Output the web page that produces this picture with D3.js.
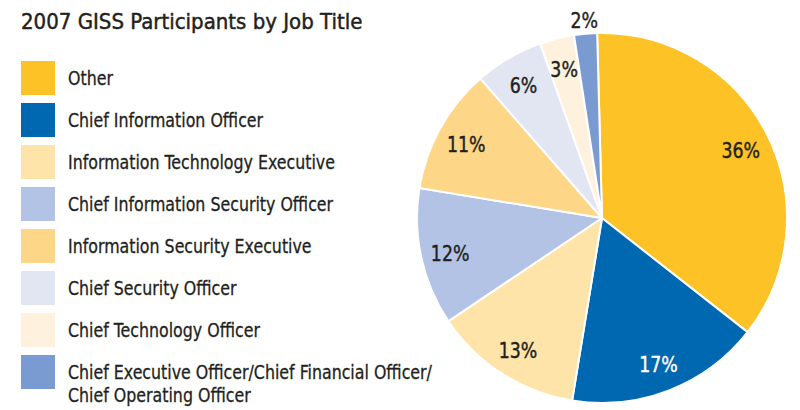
<!DOCTYPE html>
<html>
<head>
<meta charset="utf-8">
<script src="https://cdn.jsdelivr.net/npm/d3@7"></script>
<style>
  html, body { margin: 0; padding: 0; background: #ffffff; }
  svg { display: block; }
  text { font-family: "Liberation Sans Narrow", "DejaVu Sans Condensed", "Arial Narrow", sans-serif; fill: #231f20; }
  text.heavy { stroke: #231f20; stroke-width: 0.45px; }
</style>
</head>
<body>
<svg id="chart" width="800" height="410"></svg>
<script>
// Job titles of 2007 GISS participants, in slice order (clockwise from 12 o'clock)
const categories = [
  "Other",
  "Chief Information Officer",
  "Information Technology Executive",
  "Chief Information Security Officer",
  "Information Security Executive",
  "Chief Security Officer",
  "Chief Technology Officer",
  "Chief Executive Officer/Chief Financial Officer/Chief Operating Officer"
];
// Share of participants, percent
const values = [36, 17, 13, 12, 11, 6, 3, 2];
// Legend text, split onto lines
const legendLines = [
  ["Other"],
  ["Chief Information Officer"],
  ["Information Technology Executive"],
  ["Chief Information Security Officer"],
  ["Information Security Executive"],
  ["Chief Security Officer"],
  ["Chief Technology Officer"],
  ["Chief Executive Officer/Chief Financial Officer/", "Chief Operating Officer"]
];
const colors = ["#fdc326", "#0067b1", "#fee4a9", "#b3c3e5", "#fed687", "#e2e6f3", "#fef2de", "#7a9bd1"];
const labelColors = ["#231f20", "#ffffff", "#231f20", "#231f20", "#231f20", "#231f20", "#231f20", "#231f20"];

const svg = d3.select("#chart");
const narrow = 0.88; // horizontal squeeze for a condensed look

// Title
svg.append("text")
  .attr("class", "heavy")
  .attr("x", 21)
  .attr("y", 29)
  .attr("font-size", 22)
  .text("2007 GISS Participants by Job Title");

// Legend
const legend = svg.append("g");
const color = d3.scaleOrdinal().domain(categories).range(colors);
const rowY = d3.scalePoint().domain(categories).range([61, 355]);

const rows = legend.selectAll("g.row")
  .data(categories)
  .join("g")
  .attr("class", "row")
  .attr("transform", d => `translate(21,${rowY(d)})`);

rows.append("rect")
  .attr("width", 34)
  .attr("height", 34)
  .attr("fill", d => color(d));

rows.each(function(d, i) {
  const t = d3.select(this).append("text")
    .attr("class", "heavy")
    .attr("transform", `translate(47,24) scale(${narrow},1)`)
    .attr("font-size", 20)
    .style("stroke-width", "0.3px");
  legendLines[i].forEach((line, j) => {
    t.append("tspan")
      .attr("x", 0)
      .attr("dy", j === 0 ? 0 : 23)
      .text(line);
  });
});

// Pie
const cx = 602, cy = 218, radius = 185;
const offset = -1.5 * Math.PI / 180;
const pie = d3.pie().sort(null).value(d => d.value)
  .startAngle(offset).endAngle(2 * Math.PI + offset);
const arcs = pie(categories.map((c, i) => ({ name: c, value: values[i], i })));

const arc = d3.arc().innerRadius(0).outerRadius(radius);
const labelArc = d3.arc().innerRadius(radius * 0.84).outerRadius(radius * 0.84);
const outerLabelArc = d3.arc().innerRadius(radius + 15).outerRadius(radius + 15);

const g = svg.append("g").attr("transform", `translate(${cx},${cy})`);

g.selectAll("path")
  .data(arcs)
  .join("path")
  .attr("d", arc)
  .attr("fill", d => color(d.data.name))
  .attr("stroke", "#ffffff")
  .attr("stroke-width", 2)
  .attr("stroke-linejoin", "round");

g.selectAll("text.pct")
  .data(arcs)
  .join("text")
  .attr("class", "pct heavy")
  .attr("transform", d => {
    const p = d.data.value < 3 ? outerLabelArc.centroid(d) : labelArc.centroid(d);
    return `translate(${p[0]},${p[1]}) scale(0.92,1)`;
  })
  .attr("text-anchor", "middle")
  .attr("dy", "0.45em")
  .attr("font-size", 21)
  .style("fill", d => labelColors[d.data.i])
  .style("stroke", d => labelColors[d.data.i])
  .style("stroke-width", "0.4px")
  .text(d => d.data.value + "%");
</script>
</body>
</html>
